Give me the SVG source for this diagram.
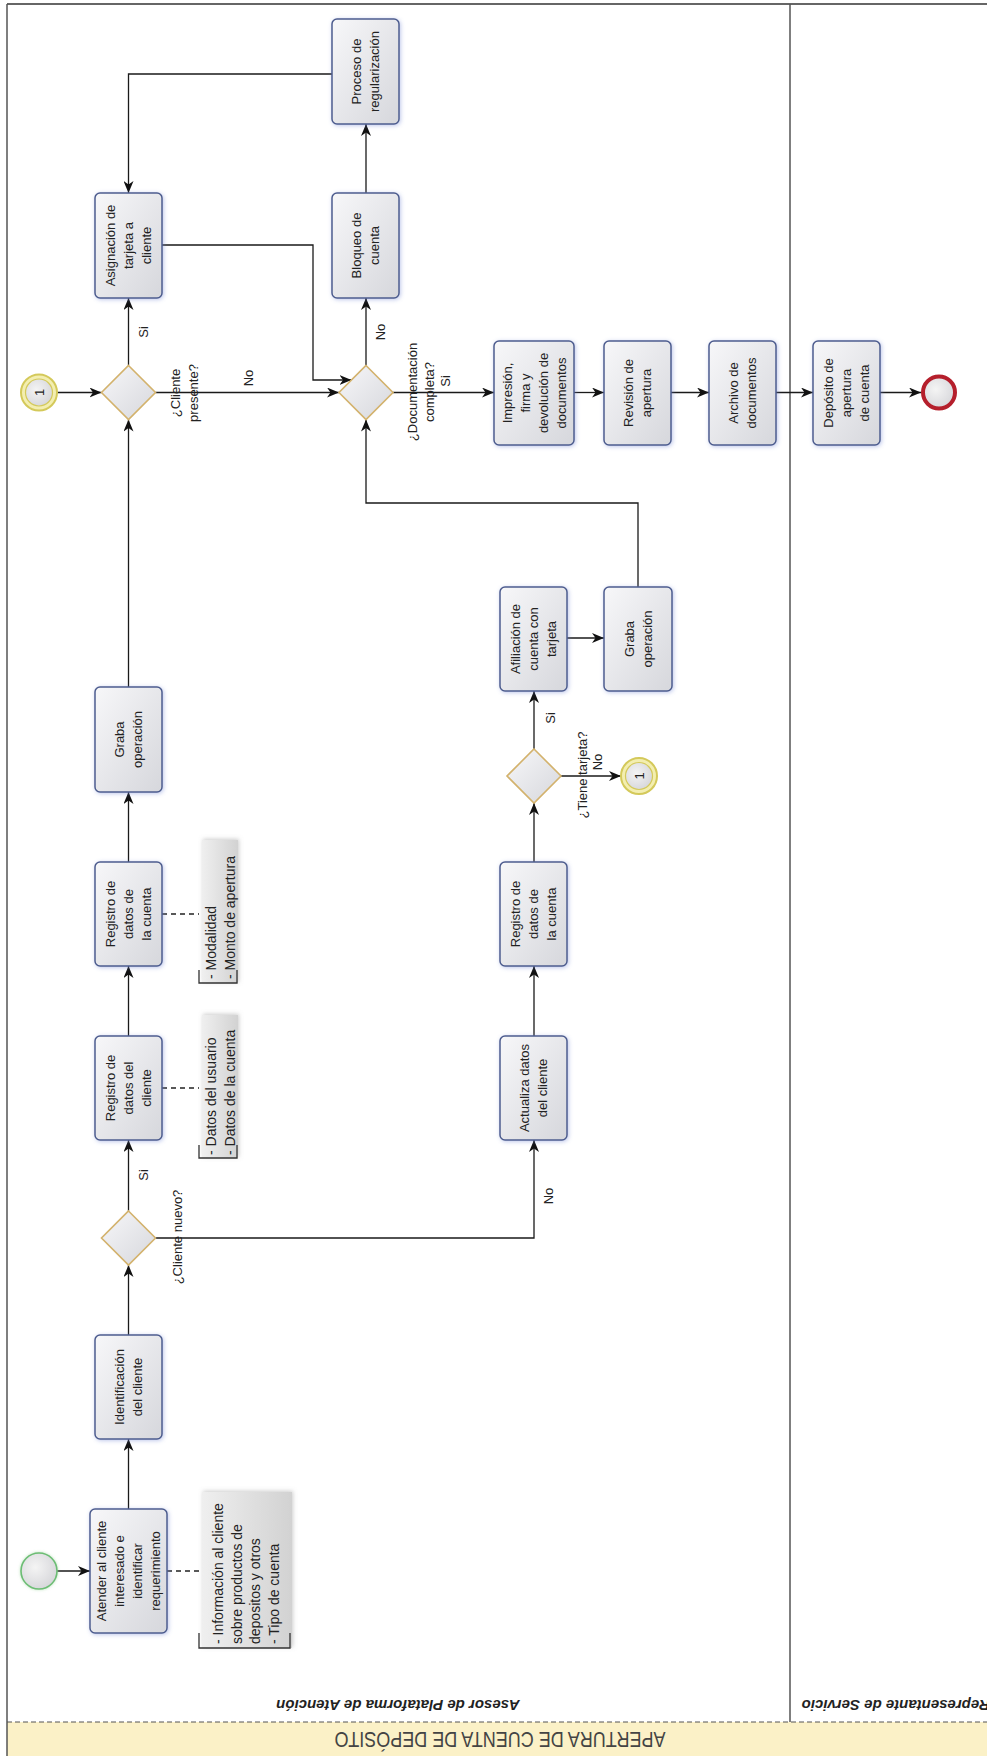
<svg xmlns="http://www.w3.org/2000/svg" width="987" height="1756" viewBox="0 0 987 1756">
<style>
.task{fill:url(#gTask);stroke:#4e5d8e;stroke-width:1.5;filter:url(#glow)}
.gw{fill:url(#gTask);stroke:#d3b26c;stroke-width:1.6}
.t{font-family:"Liberation Sans",Arial,sans-serif;font-size:13px;fill:#222;text-anchor:middle}
.lbl{font-family:"Liberation Sans",Arial,sans-serif;font-size:13px;fill:#222;text-anchor:middle}
.ann{font-family:"Liberation Sans",Arial,sans-serif;font-size:14px;fill:#222;text-anchor:start}
.annbox{fill:url(#gAnn);filter:url(#soft)}
.br{fill:none;stroke:#333;stroke-width:1.3}
.flow{fill:none;stroke:#1a1a1a;stroke-width:1.3;marker-end:url(#arr)}
.assoc{fill:none;stroke:#222;stroke-width:1.3;stroke-dasharray:5 4}
.lane{font-family:"Liberation Sans",Arial,sans-serif;font-size:15px;font-weight:bold;font-style:italic;fill:#222}
</style>
<defs>
<linearGradient id="gTask" x1="0" y1="0" x2="1" y2="1">
<stop offset="0" stop-color="#f7f7f9"/>
<stop offset="1" stop-color="#d6d7dc"/>
</linearGradient>
<linearGradient id="gAnn" x1="1" y1="0" x2="0" y2="0">
<stop offset="0" stop-color="#d2d2d2"/>
<stop offset="1" stop-color="#efefef"/>
</linearGradient>
<radialGradient id="gEv" cx="0.4" cy="0.4" r="0.7">
<stop offset="0" stop-color="#f4f4f4"/>
<stop offset="1" stop-color="#d4d4d8"/>
</radialGradient>
<filter id="glow" x="-20%" y="-20%" width="140%" height="140%">
<feDropShadow dx="1" dy="1" stdDeviation="2" flood-color="#6f82d0" flood-opacity="0.45"/>
</filter>
<filter id="soft" x="-20%" y="-20%" width="140%" height="140%">
<feDropShadow dx="1" dy="-1" stdDeviation="2" flood-color="#999" flood-opacity="0.5"/>
</filter>
<filter id="evglow" x="-30%" y="-30%" width="160%" height="160%">
<feDropShadow dx="0" dy="0" stdDeviation="1.5" flood-color="#8fd08f" flood-opacity="0.6"/>
</filter>
<marker id="arr" viewBox="0 0 12 10" refX="12" refY="5" markerWidth="12" markerHeight="10" markerUnits="userSpaceOnUse" orient="auto">
<path d="M0,0 L12,5 L0,10 L3.5,5 Z" fill="#111"/>
</marker>
</defs>

<g id="pool">
<rect x="7" y="1722" width="980" height="34" fill="#fbf1c7"/>
<path d="M7,4 H987" stroke="#333" stroke-width="1.5"/>
<path d="M7,4 V1756" stroke="#555" stroke-width="1.5"/>
<path d="M790,4 V1722" stroke="#555" stroke-width="1.5"/>
<path d="M7,1722 H987" stroke="#555" stroke-width="1.2" stroke-dasharray="5 3"/>
<text transform="translate(500,1740) rotate(180) scale(1,1.2)" font-family="'Liberation Sans',Arial,sans-serif" font-size="18" fill="#444" text-anchor="middle" dy="0.35em">APERTURA DE CUENTA DE DEPÓSITO</text>
<text class="lane" transform="translate(398,1705) rotate(180)" text-anchor="middle" dy="0.35em">Asesor de Plataforma de Atención</text>
<text class="lane" transform="translate(990,1705) rotate(180)" text-anchor="start" dy="0.35em">Representante de Servicio</text>
</g>

<g id="connectors">
<path class="flow" d="M57,1571 H90"/>
<path class="flow" d="M128.5,1509 V1439"/>
<path class="flow" d="M128.5,1335 V1265"/>
<path class="flow" d="M128.5,1211 V1140"/>
<path class="flow" d="M155.5,1238 H534 V1140"/>
<path class="flow" d="M128.5,1036 V966"/>
<path class="flow" d="M128.5,862 V792"/>
<path class="flow" d="M128.5,687 V419.5"/>
<path class="flow" d="M57,392.5 H101.5"/>
<path class="flow" d="M128.5,365.5 V298"/>
<path class="flow" d="M155.5,392.5 H339"/>
<path class="flow" d="M162,245 H313 V380 H351.5"/>
<path class="flow" d="M332,74 H128.5 V193"/>
<path class="flow" d="M366,365.5 V298"/>
<path class="flow" d="M366,193 V124"/>
<path class="flow" d="M393,392.5 H494"/>
<path class="flow" d="M574,392.5 H604"/>
<path class="flow" d="M671,392.5 H709"/>
<path class="flow" d="M776,392.5 H813"/>
<path class="flow" d="M880,392.5 H921"/>
<path class="flow" d="M534,1036 V966"/>
<path class="flow" d="M534,862 V803"/>
<path class="flow" d="M534,749 V691"/>
<path class="flow" d="M561,776 H621"/>
<path class="flow" d="M567,638 H604"/>
<path class="flow" d="M638,587 V503 H366 V419.5"/>
<path class="assoc" d="M167,1571 H199"/>
<path class="assoc" d="M162,1088 H199"/>
<path class="assoc" d="M162,914 H199"/>
<g transform="translate(143,332) rotate(-90)"><text class="lbl" dy="0.35em">Si</text></g>
<g transform="translate(184,393) rotate(-90)"><text class="lbl"><tspan x="0" y="-4.5">¿Cliente</tspan><tspan x="0" y="13.5">presente?</tspan></text></g>
<g transform="translate(248,378) rotate(-90)"><text class="lbl" dy="0.35em">No</text></g>
<g transform="translate(380,332) rotate(-90)"><text class="lbl" dy="0.35em">No</text></g>
<g transform="translate(420.5,392) rotate(-90)"><text class="lbl"><tspan x="0" y="-4">¿Documentación</tspan><tspan x="0" y="13">completa?</tspan></text></g>
<g transform="translate(445,381) rotate(-90)"><text class="lbl" dy="0.35em">Si</text></g>
<g transform="translate(177,1237) rotate(-90)"><text class="lbl" dy="0.35em">¿Cliente nuevo?</text></g>
<g transform="translate(143,1175) rotate(-90)"><text class="lbl" dy="0.35em">Si</text></g>
<g transform="translate(548,1196) rotate(-90)"><text class="lbl" dy="0.35em">No</text></g>
<g transform="translate(582,775) rotate(-90)"><text class="lbl" dy="0.35em">¿Tiene tarjeta?</text></g>
<g transform="translate(597,762) rotate(-90)"><text class="lbl" dy="0.35em">No</text></g>
<g transform="translate(550,718) rotate(-90)"><text class="lbl" dy="0.35em">Si</text></g>
</g>

<g id="start">
<circle cx="39" cy="1571" r="18" fill="url(#gEv)" stroke="#6cbd74" stroke-width="1.6" filter="url(#evglow)"/>
</g>
<g id="atender">
<rect class="task" x="90" y="1509" width="77" height="124" rx="5"/>
<g transform="translate(128.5,1571) rotate(-90)"><text class="t"><tspan x="0" y="-22.5">Atender al cliente</tspan><tspan x="0" y="-4.5">interesado e</tspan><tspan x="0" y="13.5">identificar</tspan><tspan x="0" y="31.5">requerimiento</tspan></text></g>
</g>
<g id="ann-info">
<rect class="annbox" x="202" y="1492" width="90" height="156"/>
<path class="br" d="M199,1633 V1648 H290 V1633"/>
<g transform="translate(0,1644) rotate(-90)"><text class="ann"><tspan x="0" y="223">- Información al cliente</tspan><tspan x="0" y="241.5">sobre productos de</tspan><tspan x="0" y="260">depositos y otros</tspan><tspan x="0" y="278.5">- Tipo de cuenta</tspan></text></g>
</g>
<g id="identificacion">
<rect class="task" x="95" y="1335" width="67" height="104" rx="5"/>
<g transform="translate(128.5,1387) rotate(-90)"><text class="t"><tspan x="0" y="-4.5">Identificación</tspan><tspan x="0" y="13.5">del cliente</tspan></text></g>
</g>
<g id="gw-nuevo">
<polygon class="gw" points="128.5,1211 155.5,1238 128.5,1265 101.5,1238"/>
</g>
<g id="registro-cliente">
<rect class="task" x="95" y="1036" width="67" height="104" rx="5"/>
<g transform="translate(128.5,1088) rotate(-90)"><text class="t"><tspan x="0" y="-13.5">Registro de</tspan><tspan x="0" y="4.5">datos del</tspan><tspan x="0" y="22.5">cliente</tspan></text></g>
</g>
<g id="ann-datos">
<rect class="annbox" x="202" y="1015" width="36" height="143"/>
<path class="br" d="M199,1145 V1158 H237 V1145"/>
<g transform="translate(0,1155) rotate(-90)"><text class="ann"><tspan x="0" y="216">- Datos del usuario</tspan><tspan x="0" y="234.5">- Datos de la cuenta</tspan></text></g>
</g>
<g id="registro-cuenta">
<rect class="task" x="95" y="862" width="67" height="104" rx="5"/>
<g transform="translate(128.5,914) rotate(-90)"><text class="t"><tspan x="0" y="-13.5">Registro de</tspan><tspan x="0" y="4.5">datos de</tspan><tspan x="0" y="22.5">la cuenta</tspan></text></g>
</g>
<g id="ann-modalidad">
<rect class="annbox" x="202" y="840" width="36" height="143"/>
<path class="br" d="M199,970 V983 H237 V970"/>
<g transform="translate(0,979) rotate(-90)"><text class="ann"><tspan x="0" y="216">- Modalidad</tspan><tspan x="0" y="234.5">- Monto de apertura</tspan></text></g>
</g>
<g id="graba1">
<rect class="task" x="95" y="687" width="67" height="105" rx="5"/>
<g transform="translate(128.5,739.5) rotate(-90)"><text class="t"><tspan x="0" y="-4.5">Graba</tspan><tspan x="0" y="13.5">operación</tspan></text></g>
</g>
<g id="event-1a">
<circle cx="39" cy="392.5" r="18" fill="#f3eeb0" stroke="#d4c95a" stroke-width="2"/>
<circle cx="39" cy="392.5" r="13.5" fill="url(#gEv)" stroke="#d4c95a" stroke-width="1.2"/>
<g transform="translate(39,392.5) rotate(-90)"><text class="lbl" font-size="12" dy="0.35em">1</text></g>
</g>
<g id="gw-presente">
<polygon class="gw" points="128.5,365.5 155.5,392.5 128.5,419.5 101.5,392.5"/>
</g>
<g id="asignacion">
<rect class="task" x="95" y="193" width="67" height="105" rx="5"/>
<g transform="translate(128.5,245.5) rotate(-90)"><text class="t"><tspan x="0" y="-13.5">Asignación de</tspan><tspan x="0" y="4.5">tarjeta a</tspan><tspan x="0" y="22.5">cliente</tspan></text></g>
</g>
<g id="proceso">
<rect class="task" x="332" y="19" width="67" height="105" rx="5"/>
<g transform="translate(365.5,71.5) rotate(-90)"><text class="t"><tspan x="0" y="-4.5">Proceso de</tspan><tspan x="0" y="13.5">regularización</tspan></text></g>
</g>
<g id="bloqueo">
<rect class="task" x="332" y="193" width="67" height="105" rx="5"/>
<g transform="translate(365.5,245.5) rotate(-90)"><text class="t"><tspan x="0" y="-4.5">Bloqueo de</tspan><tspan x="0" y="13.5">cuenta</tspan></text></g>
</g>
<g id="gw-documentacion">
<polygon class="gw" points="366,365.5 393,392.5 366,419.5 339,392.5"/>
</g>
<g id="impresion">
<rect class="task" x="494" y="341" width="80" height="104" rx="5"/>
<g transform="translate(534,393) rotate(-90)"><text class="t"><tspan x="0" y="-22.5">Impresión,</tspan><tspan x="0" y="-4.5">firma y</tspan><tspan x="0" y="13.5">devolución de</tspan><tspan x="0" y="31.5">documentos</tspan></text></g>
</g>
<g id="revision">
<rect class="task" x="604" y="341" width="67" height="104" rx="5"/>
<g transform="translate(637.5,393) rotate(-90)"><text class="t"><tspan x="0" y="-4.5">Revisión de</tspan><tspan x="0" y="13.5">apertura</tspan></text></g>
</g>
<g id="archivo">
<rect class="task" x="709" y="341" width="67" height="104" rx="5"/>
<g transform="translate(742.5,393) rotate(-90)"><text class="t"><tspan x="0" y="-4.5">Archivo de</tspan><tspan x="0" y="13.5">documentos</tspan></text></g>
</g>
<g id="deposito">
<rect class="task" x="813" y="341" width="67" height="104" rx="5"/>
<g transform="translate(846.5,393) rotate(-90)"><text class="t"><tspan x="0" y="-13.5">Depósito de</tspan><tspan x="0" y="4.5">apertura</tspan><tspan x="0" y="22.5">de cuenta</tspan></text></g>
</g>
<g id="end">
<circle cx="939" cy="392.5" r="16" fill="url(#gEv)" stroke="#b51f2c" stroke-width="4"/>
</g>
<g id="actualiza">
<rect class="task" x="500" y="1036" width="67" height="104" rx="5"/>
<g transform="translate(533.5,1088) rotate(-90)"><text class="t"><tspan x="0" y="-4.5">Actualiza datos</tspan><tspan x="0" y="13.5">del cliente</tspan></text></g>
</g>
<g id="registro-cuenta-2">
<rect class="task" x="500" y="862" width="67" height="104" rx="5"/>
<g transform="translate(533.5,914) rotate(-90)"><text class="t"><tspan x="0" y="-13.5">Registro de</tspan><tspan x="0" y="4.5">datos de</tspan><tspan x="0" y="22.5">la cuenta</tspan></text></g>
</g>
<g id="gw-tarjeta">
<polygon class="gw" points="534,749 561,776 534,803 507,776"/>
</g>
<g id="event-1b">
<circle cx="639" cy="776" r="18" fill="#f3eeb0" stroke="#d4c95a" stroke-width="2"/>
<circle cx="639" cy="776" r="13.5" fill="url(#gEv)" stroke="#d4c95a" stroke-width="1.2"/>
<g transform="translate(639,776) rotate(-90)"><text class="lbl" font-size="12" dy="0.35em">1</text></g>
</g>
<g id="afiliacion">
<rect class="task" x="500" y="587" width="67" height="104" rx="5"/>
<g transform="translate(533.5,639) rotate(-90)"><text class="t"><tspan x="0" y="-13.5">Afiliación de</tspan><tspan x="0" y="4.5">cuenta con</tspan><tspan x="0" y="22.5">tarjeta</tspan></text></g>
</g>
<g id="graba2">
<rect class="task" x="604" y="587" width="68" height="104" rx="5"/>
<g transform="translate(638,639) rotate(-90)"><text class="t"><tspan x="0" y="-4.5">Graba</tspan><tspan x="0" y="13.5">operación</tspan></text></g>
</g>
</svg>
